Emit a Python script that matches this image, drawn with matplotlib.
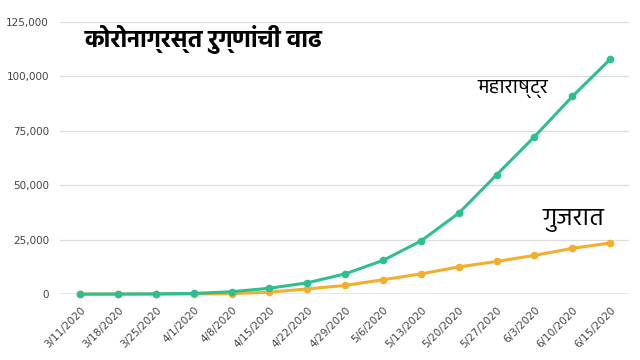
import matplotlib
matplotlib.use("Agg")
import matplotlib.pyplot as plt
from matplotlib.ticker import FuncFormatter

# dates (weekly) and confirmed cases
dates = ["3/11/2020", "3/18/2020", "3/25/2020", "4/1/2020", "4/8/2020",
         "4/15/2020", "4/22/2020", "4/29/2020", "5/6/2020", "5/13/2020",
         "5/20/2020", "5/27/2020", "6/3/2020", "6/10/2020", "6/15/2020"]
maharashtra = [0, 40, 120, 300, 1100, 2700, 5200, 9300, 15500, 24400,
               37200, 54800, 72300, 90800, 107900]
gujarat = [0, 0, 40, 90, 200, 900, 2400, 4000, 6600, 9300,
           12500, 15000, 17800, 21000, 23500]
y_ticks = [0, 25000, 50000, 75000, 100000, 125000]

title = "कोरोनाग्रस्त रुग्णांची वाढ"
label_mh = "महाराष्ट्र"
label_gj = "गुजरात"

GREEN = "#2fbf8f"
ORANGE = "#f4ae2e"
DEV = ["Hind", "Noto Sans", "DejaVu Sans"]

fig = plt.figure(figsize=(6.4, 3.6), dpi=100)
ax = fig.add_axes([0.094, 0.183, 0.889, 0.756])

x = list(range(len(dates)))
ax.plot(x, maharashtra, color=GREEN, lw=2.2, marker="o", ms=4.5, clip_on=False, zorder=4)
ax.plot(x, gujarat, color=ORANGE, lw=2.2, marker="o", ms=4.5, clip_on=False, zorder=3)

ax.set_xlim(-0.53, 14.5)
ax.set_ylim(0, 125000)
ax.set_yticks(y_ticks)
ax.yaxis.set_major_formatter(FuncFormatter(lambda v, p: f"{int(v):,}"))
ax.set_xticks(x)
ax.set_xticklabels(dates, rotation=45, ha="right", rotation_mode="anchor")
ax.tick_params(axis="both", length=0, labelsize=7.5, labelcolor="#444444")
ax.tick_params(axis="x", pad=8)
ax.tick_params(axis="y", pad=8)

ax.grid(axis="y", color="#dddddd", lw=0.9)
ax.set_axisbelow(True)
for s in ax.spines.values():
    s.set_visible(False)
ax.axhline(0, color="#9a9a9a", lw=1.0, zorder=2)

fig.text(0.133, 0.89, title, family=DEV, fontsize=17.5, fontweight="bold", va="center")
ax.text(10.5, 94000, label_mh, family=DEV, fontsize=14.5, va="center")
ax.text(12.2, 34000, label_gj, family=DEV, fontsize=18, va="center")

fig.savefig("out.png", dpi=100)
